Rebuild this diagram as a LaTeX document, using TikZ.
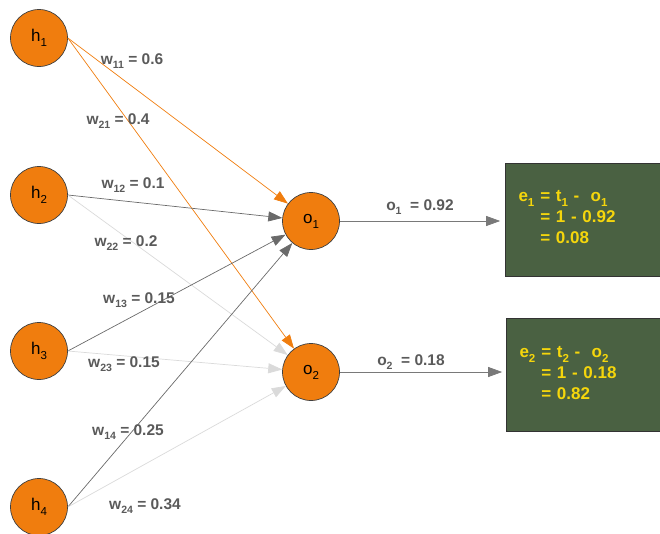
\documentclass[tikz,border=0pt]{standalone}
\usepackage{fontspec}
\setmainfont{Liberation Sans}
\usetikzlibrary{arrows.meta}
\definecolor{neuronorange}{HTML}{F07D0E}
\definecolor{labelgray}{HTML}{5A5A5A}
\definecolor{darkedge}{HTML}{6A6A6A}
\definecolor{lightedge}{HTML}{DADADA}
\definecolor{boxgreen}{HTML}{4A6142}
\definecolor{boxyellow}{HTML}{F5D60C}
% lowered index as in the picture
\newcommand{\idx}[1]{\raisebox{-0.55ex}{\scalebox{0.68}{#1}}}
\begin{document}
\begin{tikzpicture}[x=1pt,y=-1pt,
  neuron/.style={circle,draw=black!75,line width=0.7pt,fill=neuronorange,
    minimum size=57pt,inner sep=0pt,font=\fontsize{17}{17}\selectfont},
  wlabel/.style={text=labelgray,inner sep=0pt,font=\bfseries\fontsize{15.5}{15.5}\selectfont},
  errbox/.style={draw=black!80,line width=0.7pt,fill=boxgreen,text=boxyellow,
    minimum width=155pt,minimum height=113pt,text width=129pt,align=left,
    inner sep=0pt,font=\bfseries\fontsize{17}{21}\selectfont},
  edge/.style={line width=0.7pt,-{Triangle[length=14pt,width=10pt]}}]
  % fixes the page to the reference size
  \useasboundingbox (0,0) rectangle (660,533);
  % hidden layer
  \node[neuron] (h1) at (39,38) {h\idx{1}};
  \node[neuron] (h2) at (39,195) {h\idx{2}};
  \node[neuron] (h3) at (39,351) {h\idx{3}};
  \node[neuron] (h4) at (39,507) {h\idx{4}};
  % output layer
  \node[neuron] (o1) at (311,221) {o\idx{1}};
  \node[neuron] (o2) at (311,372) {o\idx{2}};
  % error boxes
  \node[errbox] (e1) at (583,219.5) {e\idx{1}\hspace{6pt}= t\idx{1} -\ \ o\idx{1}\\
    \phantom{e\idx{1}}\hspace{6pt}= 1 - 0.92\\
    \phantom{e\idx{1}}\hspace{6pt}= 0.08};
  \node[errbox] (e2) at (584,375) {e\idx{2}\hspace{6pt}= t\idx{2} -\ \ o\idx{2}\\
    \phantom{e\idx{2}}\hspace{6pt}= 1 - 0.18\\
    \phantom{e\idx{2}}\hspace{6pt}= 0.82};
  % weights into o1 / o2
  \draw[edge,neuronorange] (h1.east) -- (o1);
  \draw[edge,neuronorange] (h1.east) -- (o2);
  \draw[edge,darkedge] (h2.east) -- (o1);
  \draw[edge,lightedge] (h2.east) -- (o2);
  \draw[edge,darkedge] (h3.east) -- (o1);
  \draw[edge,lightedge] (h3.east) -- (o2);
  \draw[edge,darkedge] (h4.east) -- (o1);
  \draw[edge,lightedge] (h4.east) -- (o2);
  % outputs to errors
  \draw[edge,darkedge!90,shorten >=5pt] (o1.east) -- (e1.west |- o1.east);
  \draw[edge,darkedge!90,shorten >=4pt] (o2.east) -- (e2.west |- o2.east);
  % weight labels
  \node[wlabel] (l11) at (132,61) {w\idx{11} = 0.6};
  \node[wlabel] (l21) at (118,121) {w\idx{21} = 0.4};
  \node[wlabel] (l12) at (133,185) {w\idx{12} = 0.1};
  \node[wlabel] (l22) at (126,243) {w\idx{22} = 0.2};
  \node[wlabel] (l13) at (139,300) {w\idx{13} = 0.15};
  \node[wlabel] (l23) at (124,364) {w\idx{23} = 0.15};
  \node[wlabel] (l14) at (128,432) {w\idx{14} = 0.25};
  \node[wlabel] (l24) at (145,506) {w\idx{24} = 0.34};
  \node[wlabel] (lo1) at (420,207) {o\idx{1}\ \ = 0.92};
  \node[wlabel] (lo2) at (411,362) {o\idx{2}\ \ = 0.18};
\end{tikzpicture}
\end{document}
